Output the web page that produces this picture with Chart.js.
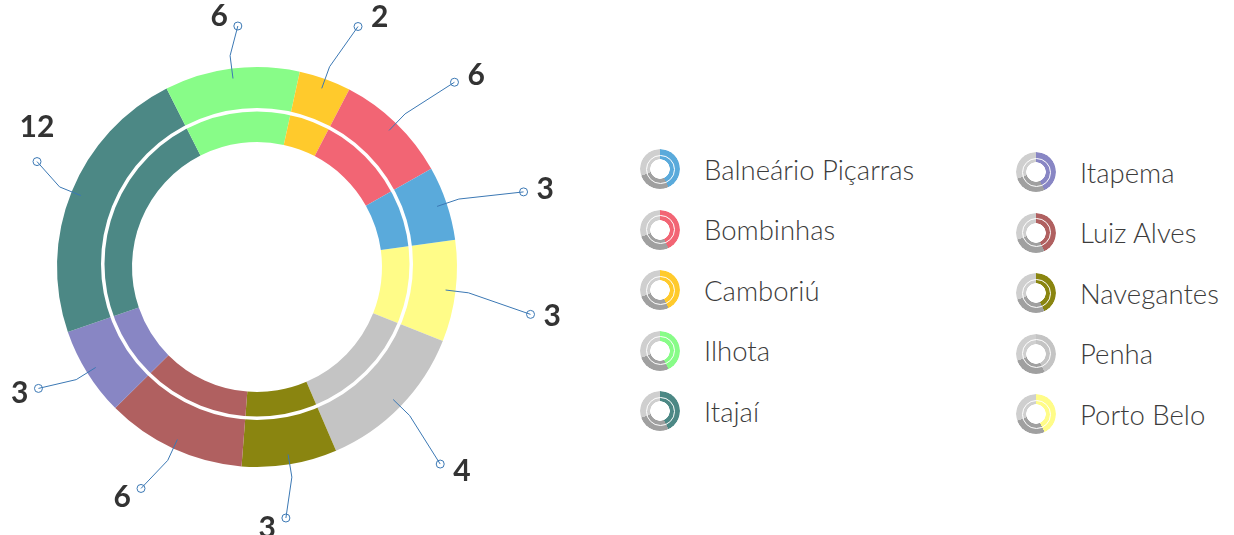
<!DOCTYPE html>
<html>
<head>
<meta charset="utf-8">
<script src="https://cdn.jsdelivr.net/npm/chart.js@4"></script>
<style>
  html, body { margin: 0; padding: 0; background: #fff; }
  body { width: 1234px; height: 535px; position: relative; overflow: hidden; font-family: Lato, "Open Sans", sans-serif; }
  #chartBox { position: absolute; left: 0; top: 0; width: 620px; height: 535px; }
  .legend-item { position: absolute; height: 40px; display: flex; align-items: center; }
  .legend-icon {
    width: 40px; height: 40px; border-radius: 50%; position: relative; flex: none;
    -webkit-mask: radial-gradient(circle, transparent 9.5px, #000 10px);
    mask: radial-gradient(circle, transparent 9.5px, #000 10px);
  }
  .legend-icon::after {
    content: ''; position: absolute; left: 5.5px; top: 5.5px; width: 27px; height: 27px;
    border-radius: 50%; border: 1.5px solid #fff;
  }
  .legend-text { margin-left: 24px; font-size: 27.5px; font-weight: 300; color: #3c3c3c; white-space: nowrap; }
</style>
</head>
<body>
<div id="chartBox"><canvas id="donutChart" width="620" height="535"></canvas></div>
<div id="legend"></div>

<script>
// Municipalities, clockwise starting at the right side
const labels = ['Porto Belo', 'Penha', 'Navegantes', 'Luiz Alves', 'Itapema', 'Itajaí', 'Ilhota', 'Camboriú', 'Bombinhas', 'Balneário Piçarras'];
// slice sizes as drawn in the picture (%)
const shares = [8.2, 12.5, 7.7, 11.3, 7.2, 22.8, 10.9, 4.2, 9.2, 6.0];
// numbers written next to each slice
const counts = [3, 4, 3, 6, 3, 12, 6, 2, 6, 3];
const colors = ['#fffc88', '#c4c4c4', '#8a8510', '#b06060', '#8886c4', '#4c8885', '#88fc88', '#ffca2c', '#f26574', '#5aaadb'];

// white ring drawn through the band
const ringLine = {
    id: 'ringLine',
    afterDatasetsDraw(chart) {
        const arc = chart.getDatasetMeta(0).data[0];
        if (!arc) return;
        const { x, y, innerRadius, outerRadius } = arc.getProps(['x', 'y', 'innerRadius', 'outerRadius'], true);
        const ctx = chart.ctx;
        ctx.save();
        ctx.strokeStyle = '#fff';
        ctx.lineWidth = 3.5;
        ctx.beginPath();
        ctx.arc(x, y - 3, innerRadius + (outerRadius - innerRadius) * 0.39, 0, Math.PI * 2);
        ctx.stroke();
        ctx.restore();
    }
};

// leader lines with the counts
const leaders = {
    id: 'leaders',
    afterDatasetsDraw(chart) {
        const ctx = chart.ctx;
        const meta = chart.getDatasetMeta(0);
        ctx.save();
        ctx.font = 'bold 30px Lato, sans-serif';
        meta.data.forEach(function(arc, i) {
            const p = arc.getProps(['x', 'y', 'startAngle', 'endAngle', 'outerRadius'], true);
            const a = (p.startAngle + p.endAngle) / 2;
            const a2 = a + 0.05;
            const c = Math.cos(a2), s = Math.sin(a2);
            const r0 = p.outerRadius - 10, r1 = p.outerRadius + 13;
            const r2 = p.outerRadius + 50 + 28 * Math.max(0, c);
            const x0 = p.x + Math.cos(a) * r0, y0 = p.y + Math.sin(a) * r0;
            const x1 = p.x + Math.cos(a) * r1, y1 = p.y + Math.sin(a) * r1;
            let x2 = p.x + c * r2, y2 = p.y + s * r2;
            x2 = Math.max(x2, 37);
            y2 = Math.min(Math.max(y2, 26), 518);

            ctx.strokeStyle = '#3b78b4';
            ctx.lineWidth = 1;
            ctx.beginPath();
            ctx.moveTo(x0, y0);
            ctx.lineTo(x1, y1);
            ctx.lineTo(x2, y2);
            ctx.stroke();
            ctx.beginPath();
            ctx.arc(x2, y2, 4, 0, Math.PI * 2);
            ctx.stroke();

            const text = String(counts[i]);
            const w = ctx.measureText(text).width;
            ctx.fillStyle = '#333';
            ctx.textBaseline = 'middle';
            let tx, ty = y2 + s * 10;
            if (c > 0.3) { ctx.textAlign = 'left'; tx = x2 + 13; }
            else { ctx.textAlign = 'right'; tx = x2 - 10; }
            if (tx - w < 2) {
                // no room on the left: put it above the marker
                ctx.textAlign = 'center';
                tx = x2;
                ty = y2 - 34;
            }
            ctx.fillText(text, tx, ty);
        });
        ctx.restore();
    }
};

new Chart(document.getElementById('donutChart'), {
    type: 'doughnut',
    data: {
        labels: labels,
        datasets: [{
            data: shares,
            backgroundColor: colors,
            borderWidth: 0
        }]
    },
    options: {
        responsive: false,
        animation: false,
        rotation: 82.2,
        cutout: '62.5%',
        layout: {
            padding: { left: 57, right: 163, top: 67, bottom: 68 }
        },
        plugins: {
            legend: { display: false },
            tooltip: { enabled: false }
        }
    },
    plugins: [ringLine, leaders]
});

// Legend: two columns, alphabetical
const legendOrder = labels.slice().sort(function(a, b) { return a.localeCompare(b, 'pt'); });
const legendEl = document.getElementById('legend');
legendOrder.forEach(function(name, k) {
    const col = k < 5 ? 0 : 1;
    const row = k % 5;
    const color = colors[labels.indexOf(name)];
    const item = document.createElement('div');
    item.className = 'legend-item';
    item.style.left = (col === 0 ? 640 : 1016) + 'px';
    item.style.top = ((col === 0 ? 149 : 152) + row * 60.5) + 'px';
    const icon = document.createElement('div');
    icon.className = 'legend-icon';
    icon.style.background = 'conic-gradient(' + color + ' 10deg 155deg, #a0a0a0 155deg 250deg, #cfcfcf 250deg 370deg)';
    const text = document.createElement('span');
    text.className = 'legend-text';
    text.textContent = name;
    item.appendChild(icon);
    item.appendChild(text);
    legendEl.appendChild(item);
});
</script>
</body>
</html>
